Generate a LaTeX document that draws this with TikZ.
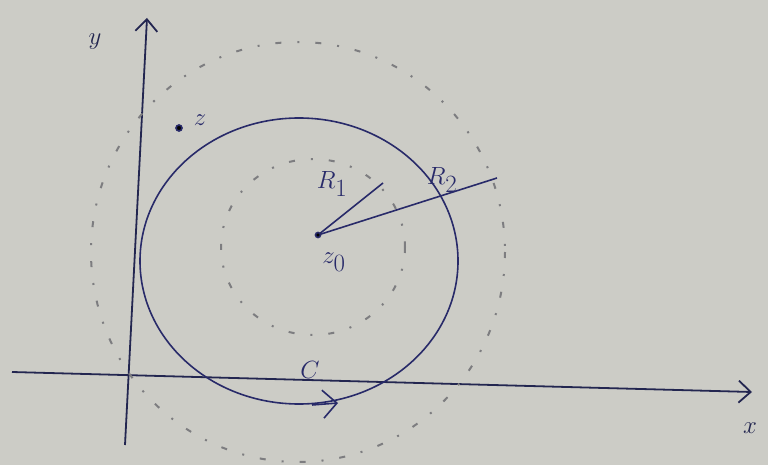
\documentclass[tikz,border=0pt]{standalone}
\usetikzlibrary{arrows.meta}
\definecolor{paper}{RGB}{204,204,198}
\definecolor{ink}{RGB}{40,42,105}
\definecolor{axisink}{RGB}{35,38,80}
\definecolor{pencil}{RGB}{125,125,128}
\tikzset{
  ink/.style={draw=ink, line width=1.6pt},
  axisline/.style={draw=axisink, line width=1.8pt, -{Straight Barb[length=12pt,width=22pt,line width=1.8pt]}},
  dashcirc/.style={draw=pencil, line width=2pt, dash pattern=on 6pt off 16pt on 2pt off 16pt},
  lbl/.style={text=ink, font=\fontsize{34}{36}\selectfont},
}
\begin{document}
\begin{tikzpicture}[x=1pt,y=-1pt]
\fill[paper] (0,0) rectangle (768,465);
\useasboundingbox (0,0) rectangle (768,465);
% axes
\coordinate (yb) at (125,445);
\coordinate (yt) at (147,18);
\coordinate (xl) at (12,372);
\coordinate (xr) at (752,392);
\draw[axisline] (yb) -- (yt);
\draw[axisline] (xl) -- (xr);
\node[lbl, text=axisink] (ylab) at (95,42) {$y$};
\node[lbl, text=axisink] (xlab) at (750,428) {$x$};
% dashed circles
\draw[dashcirc] (298,252) ellipse [x radius=207, y radius=210];
\draw[dashcirc] (313,247) ellipse [x radius=92, y radius=88];
% contour C
\draw[ink] (299,261) ellipse [x radius=159, y radius=143];
\coordinate (ca) at (312,405);
\coordinate (cb) at (338,403);
\draw[ink, -{Straight Barb[length=14pt,width=28pt,line width=1.6pt]}] (ca) -- (cb);
\node[lbl] (C) at (310,370) {$C$};
% centre and radii
\coordinate (z0) at (318,235);
\coordinate (r1) at (383,183);
\coordinate (r2) at (497,178);
\draw[ink] (z0) -- (r1);
\draw[ink] (z0) -- (r2);
\fill[ink] (z0) circle (2.5);
\node[lbl] (z0lab) at (334,262) {$z_0$};
\node[lbl] (R1) at (332,184) {$R_1$};
\node[lbl] (R2) at (442,180) {$R_2$};
% point z
\coordinate (z) at (179,128);
\fill[ink] (z) circle (3);
\node[lbl] (zlab) at (200,120) {$z$};
\end{tikzpicture}
\end{document}
